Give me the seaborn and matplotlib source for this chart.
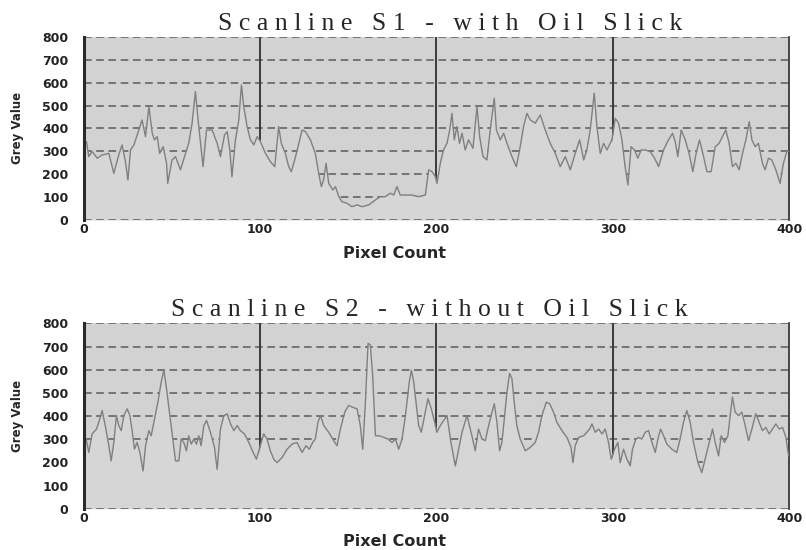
import pandas as pd
import matplotlib.pyplot as plt
import seaborn as sns

# Scanline S1 - with oil slick (pixel, grey value)
s1_pixel = [0, 1.5, 2.8, 4.7, 7.6, 10.4, 14.2, 17, 19.8, 21.7, 23.6, 25, 26.5, 28.4, 31.2, 33, 35, 36.9,
            38.8, 40, 41.6, 43, 45, 46.9, 47.6, 50, 52, 54.8, 57.7, 59.5, 61.4, 63.3, 64.6, 66, 67.6,
            69.6, 72.8, 75.6, 77.5, 79.8, 81.3, 82.8, 84, 86, 87.9, 89.4, 90.7, 92.6, 94.5, 96.4, 98.3,
            100, 103, 105.8, 108.3, 110.5, 112, 114.3, 116.2, 117.7, 119.6, 121.5, 123.8, 125.7,
            128.5, 131.3, 133.2, 134.7, 136, 137.4, 138.9, 141.2, 142.7, 144.6, 146.4, 149.3, 152.1,
            155, 157.8, 161.6, 165.3, 168.2, 171, 173.9, 175.8, 177.6, 179.5, 182.4, 186.1, 190,
            193.7, 195.6, 197.5, 199.4, 200.3, 202.2, 204, 206, 207.5, 208.8, 210.1, 211.6, 213.1,
            214.5, 216.3, 218.2, 220.7, 223, 224.5, 226.4, 228.6, 230.5, 232.8, 234, 236.2, 238.1,
            240, 242.8, 245.3, 247.5, 249.4, 251.3, 253.2, 256, 258.9, 261.7, 264.5, 267.4, 270.2,
            273.1, 275.9, 278.7, 281.2, 283.5, 285.3, 287.2, 289.5, 291, 292.9, 294.8, 296.7, 299.5,
            301.4, 303.3, 305.2, 307, 308.6, 310.4, 312.3, 314.2, 316.1, 318.4, 321.2, 323.7, 326,
            328.8, 331.6, 333.9, 335.4, 336.9, 338.8, 341.1, 343.3, 345.4, 347.3, 349.2, 351.5,
            353.4, 355.8, 358.1, 360.3, 362.2, 364.1, 366, 367.9, 369.8, 371.7, 373.6, 375.5, 377.4,
            378.9, 380.8, 382.6, 384.9, 386.4, 388.3, 390.2, 392.5, 394.9, 396.8, 398.7, 400]
s1_grey = [330, 342, 277, 299, 270, 284, 291, 204, 284, 328, 255, 175, 306, 328, 393, 437, 364, 495,
           379, 350, 364, 291, 320, 248, 160, 262, 277, 219, 291, 335, 423, 561, 452, 350, 233,
           393, 393, 335, 277, 371, 386, 306, 189, 350, 437, 590, 495, 408, 350, 328, 364,
           345, 291, 255, 233, 408, 335, 291, 233, 211, 262, 320, 393, 386,
           350, 291, 204, 146, 175, 248, 160, 131, 146, 102, 80, 73, 58,
           66, 58, 66, 87, 102, 102, 117, 109, 146, 109, 109, 109, 102,
           109, 219, 211, 189, 160, 248, 306, 335, 393, 466, 350, 408, 335,
           379, 306, 350, 313, 495, 364, 277, 262, 393, 532, 393, 350, 379,
           335, 277, 233, 320, 408, 466, 437, 423, 459, 393, 335, 291, 233,
           277, 219, 291, 350, 262, 306, 393, 554, 408, 291, 335, 306, 350,
           444, 423, 350, 233, 153, 320, 306, 270, 306, 306, 299, 270, 233,
           306, 350, 379, 342, 277, 393, 350, 291, 211, 291, 350, 277,
           211, 211, 320, 335, 364, 393, 335, 233, 248, 219, 291, 350, 430,
           350, 320, 335, 248, 219, 270, 262, 219, 160, 248, 299, 300]

# Scanline S2 - without oil slick (pixel, grey value)
s2_pixel = [0, 1.5, 2.8, 4.7, 7.2, 9.1, 10.4, 12.3, 14.2, 15.5, 17, 18.5, 19.8, 21.2, 22.7, 24.6, 26.1,
            27.4, 28.7, 30.2, 31.8, 33.6, 35, 36.9, 38.2, 39.7, 42, 43.9, 45.4, 46.9, 48.8, 50.7, 52,
            53.9, 55.2, 56.7, 58.2, 59.5, 60.9, 62.4, 63.9, 65.2, 66.5, 68.1, 69.6, 71.8, 74.1, 75.6,
            77.5, 79.4, 81.3, 83.2, 85.1, 87, 88.8, 91.1, 93.6, 96, 97.9, 100.1, 102, 103.9, 105.8,
            107.7, 109.6, 112.4, 115.3, 118.1, 120.9, 123.8, 126, 127.9, 129.8, 131.3, 132.8, 134.2,
            136.1, 138.9, 141.7, 143.6, 145.5, 148, 150.2, 152.1, 155, 156.8, 158.2, 159.7, 161.2,
            162.5, 163.8, 165.4, 167.6, 170.1, 172.5, 174.8, 176.7, 178.6, 180.5, 182.4, 184.6,
            185.8, 187.1, 188.4, 189.9, 191.4, 193.3, 195.2, 197.1, 199, 200.2, 202.2, 206, 208.2,
            210.7, 214.5, 217.3, 220.1, 222, 223.9, 225.8, 227.7, 229.6, 231.5, 232.8, 234.3, 235.8,
            237.1, 238.5, 240, 241.5, 242.8, 244.1, 245.6, 247.5, 250.4, 253.2, 256, 257.9, 259.8,
            262.3, 264.2, 266.4, 268.3, 271.2, 274, 276.3, 277.4, 278.7, 280.6, 283.5, 285.3, 286.9,
            288.2, 290.1, 292, 293.9, 295.7, 297.6, 299.1, 301, 302.9, 304.2, 306.1, 308, 309.9,
            311.2, 313.1, 314.6, 316.5, 318.4, 320.3, 322.2, 324.1, 325.6, 327.1, 328.8, 330.7,
            333.5, 336.3, 338.2, 340.1, 342, 343.9, 345.8, 348.3, 350.5, 352.4, 354.7, 356.6, 358.1,
            360, 361.5, 363.4, 365.3, 366.6, 367.9, 369.4, 371.3, 373.2, 375.1, 377, 378.9, 381.1,
            383, 384.9, 386.8, 388.7, 390.6, 392.5, 394.4, 396.3, 398.2, 399.7]
s2_grey = [280, 294, 243, 323, 344, 388, 424, 352, 272, 207, 286, 402, 359, 337, 402, 431, 402,
           337, 257, 286, 243, 163, 272, 337, 315, 373, 460, 547, 598, 518, 402, 286, 207,
           207, 301, 286, 250, 315, 279, 301, 279, 315, 272, 359, 381, 330, 265, 170,
           344, 402, 410, 366, 337, 359, 337, 323, 286, 243, 214, 272, 323, 301, 250,
           214, 199, 221, 257, 279, 286, 243, 272, 257, 286, 301, 373, 402,
           359, 330, 294, 272, 344, 417, 446, 439, 431, 359, 257, 460, 714,
           707, 576, 315, 315, 308, 301, 286, 301, 257, 301, 402, 547,
           598, 547, 460, 359, 330, 402, 475, 431, 373, 330, 359, 402, 286,
           185, 330, 402, 315, 250, 344, 301, 294, 359, 417, 453, 373, 250,
           286, 388, 504, 584, 562, 460, 359, 301, 250, 265, 286, 330, 402,
           460, 453, 417, 373, 337, 308, 265, 199, 272, 308, 315, 330, 344,
           366, 330, 344, 323, 344, 286, 214, 257, 286, 199, 257, 214, 185,
           257, 301, 308, 301, 330, 337, 286, 243, 301, 344, 315, 279,
           257, 243, 301, 373, 424, 373, 286, 199, 156, 214, 286, 344, 286,
           228, 315, 286, 315, 402, 482, 417, 402, 417, 359, 294, 344, 410,
           373, 337, 351, 323, 344, 366, 344, 351, 308, 228]

titles = ["S c a n l i n e   S 1   -   w i t h   O i l   S l i c k",
          "S c a n l i n e   S 2   -   w i t h o u t   O i l   S l i c k"]
y_ticks = [0, 100, 200, 300, 400, 500, 600, 700, 800]
x_ticks = [0, 100, 200, 300, 400]

sns.set_style("white")
plt.rcParams['font.family'] = ['DejaVu Sans']

fig = plt.figure(figsize=(8.06, 5.5), dpi=100)
ax1 = fig.add_axes([0.104, 0.600, 0.875, 0.333])
ax2 = fig.add_axes([0.104, 0.075, 0.875, 0.337])

panels = [(ax1, s1_pixel, s1_grey, titles[0], 0.52), (ax2, s2_pixel, s2_grey, titles[1], 0.49)]
for ax, px, gv, title, tx in panels:
    df = pd.DataFrame({"Pixel Count": px, "Grey Value": gv})
    ax.set_facecolor("#d2d2d2")
    # horizontal dashed grid
    for yv in y_ticks[1:]:
        ax.axhline(yv, color="#5a5a5a", lw=1.1, ls=(0, (5, 3)), zorder=1)
    # vertical solid grid
    for xv in x_ticks[1:-1]:
        ax.axvline(xv, color="#3a3a3a", lw=1.4, zorder=1)
    # area under curve hides the grid
    ax.fill_between(df["Pixel Count"], 0, df["Grey Value"], color="#d6d6d6", lw=0, zorder=2)
    sns.lineplot(data=df, x="Pixel Count", y="Grey Value", ax=ax, color="#808080",
                 lw=1.0, zorder=3)
    ax.axhline(0, color="#5a5a5a", lw=1.1, ls=(0, (5, 3)), zorder=4)
    ax.set_xlim(0, 400)
    ax.set_ylim(0, 800)
    ax.set_xticks(x_ticks)
    ax.set_yticks(y_ticks)
    ax.tick_params(axis="x", length=0, labelsize=9, pad=2)
    ax.tick_params(axis="y", length=0, labelsize=9, pad=11)
    for lab in ax.get_xticklabels() + ax.get_yticklabels():
        lab.set_fontweight("bold")
        lab.set_color("#222222")
    ax.set_xlabel("Pixel Count", fontsize=11.5, fontweight="bold", labelpad=7, x=0.44)
    ax.set_ylabel("Grey Value", fontsize=8.5, fontweight="bold", labelpad=13)
    ax.set_title(title, fontsize=18.5, family="Liberation Serif", pad=5, x=tx)
    ax.spines["top"].set_visible(False)
    ax.spines["bottom"].set_visible(False)
    ax.spines["left"].set_color("#2a2a2a")
    ax.spines["left"].set_linewidth(2.2)
    ax.spines["right"].set_color("#2a2a2a")
    ax.spines["right"].set_linewidth(1.2)
    ax.spines["left"].set_zorder(5)

fig.savefig("out.png", dpi=100)
plt.close()
